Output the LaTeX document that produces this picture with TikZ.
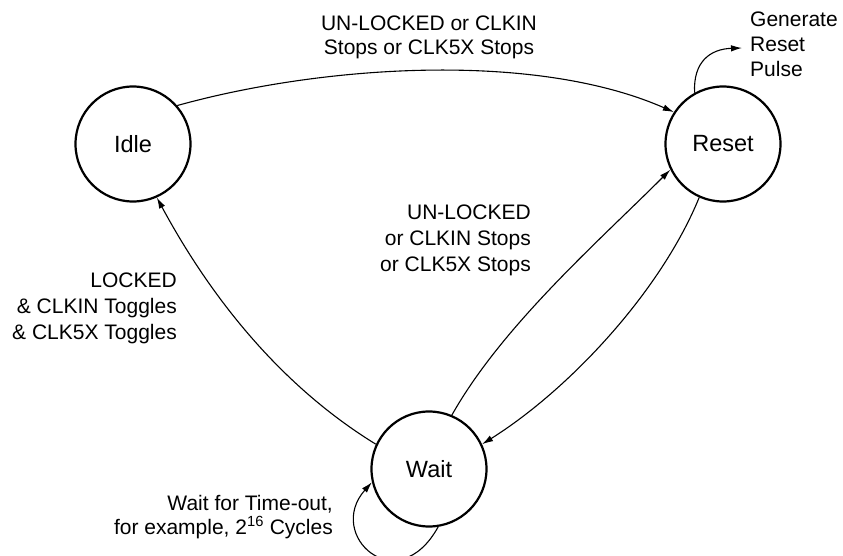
\documentclass[tikz,border=0pt]{standalone}
\usepackage{fontspec}
\setmainfont{Liberation Sans}
\usetikzlibrary{arrows.meta}

\begin{document}
\begin{tikzpicture}[x=1pt,y=-1pt,
  state/.style={circle, draw, line width=2.2pt, minimum size=115pt, inner sep=0pt,
                font=\fontsize{23.5}{27}\selectfont},
  trans/.style={line width=1.1pt, -{Latex[length=11pt,width=6.5pt]}},
  lbl/.style={inner sep=0pt, font=\fontsize{21}{26}\selectfont}]
  \useasboundingbox (0,0) rectangle (843,556);

  % states
  \node[state] (idle)  at (133,144) {Idle};
  \node[state] (reset) at (723,144) {Reset};
  \node[state] (wait)  at (429,469) {Wait};

  % Idle -> Reset
  \draw[trans] (idle.41.6) .. controls (323,65) and (535,51) .. (reset.147.9);
  \node[lbl, anchor=north, align=center, font=\fontsize{21}{24}\selectfont] (lidlereset) at (429,16)
    {UN-LOCKED or CLKIN\\Stops or CLK5X Stops};

  % Reset self action
  \coordinate (pulse) at (742,48);
  \draw[trans] (reset.119) .. controls (693,62) and (710,49) .. (pulse);
  \node[lbl, anchor=north west, align=left, font=\fontsize{21}{25}\selectfont] (lpulse) at (750,12)
    {Generate\\Reset\\Pulse};

  % Wait -> Reset
  \draw[trans] (wait.67.7) .. controls (502,326) and (599,241) .. (reset.206);
  \node[lbl, anchor=north east, align=right] (lwaitreset) at (531,205)
    {UN-LOCKED\\or CLKIN Stops\\or CLK5X Stops};

  % Reset -> Wait
  \draw[trans] (reset.246) .. controls (661,291) and (570,389) .. (wait.25.7);

  % Wait -> Idle
  \draw[trans] (wait.155.6) .. controls (281,386) and (211,298) .. (idle.-66.3);
  \node[lbl, anchor=north east, align=right] (lwaitidle) at (177,273)
    {LOCKED\\\& CLKIN Toggles\\\& CLK5X Toggles};

  % Wait self loop
  \draw[trans] (wait.-81) .. controls (397,601) and (325,535) .. (wait.193.8);
  \node[lbl, anchor=north east, align=right, font=\fontsize{21}{24}\selectfont] (ltimeout) at (333,495)
    {Wait for Time-out,\\for example, 2\textsuperscript{16} Cycles};
\end{tikzpicture}
\end{document}
